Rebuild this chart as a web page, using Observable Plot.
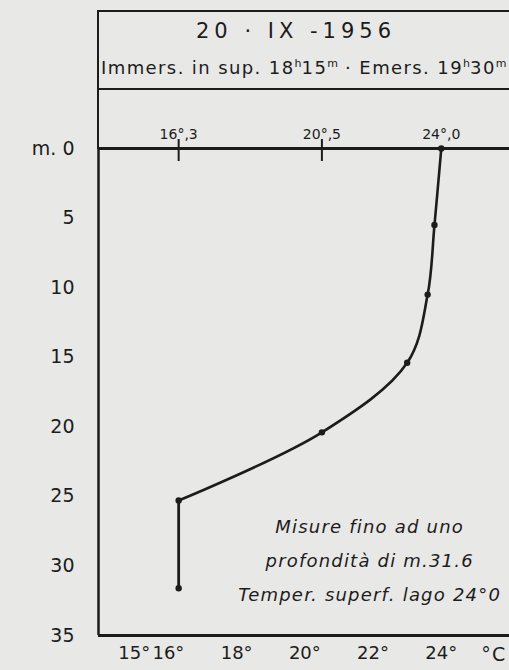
<!DOCTYPE html>
<html><head><meta charset="utf-8">
<script src="https://cdn.jsdelivr.net/npm/d3@7"></script>
<script src="https://cdn.jsdelivr.net/npm/@observablehq/plot@0.6"></script>
<style>
html,body{margin:0;padding:0;background:#e8e8e6;}
#wrap{position:relative;width:509px;height:670px;overflow:hidden;background:#e8e8e6;font-family:"DejaVu Sans",sans-serif;color:#1c1c1c;}
#head{position:absolute;left:97px;top:10px;width:440px;height:139px;border-top:2.5px solid #1c1c1c;border-left:2.5px solid #1c1c1c;box-sizing:border-box;}
#sep{position:absolute;left:0;top:76px;width:100%;height:0;border-top:2.5px solid #1c1c1c;}
#title{position:absolute;left:97px;width:398px;top:21px;text-align:center;font-size:21px;line-height:21px;letter-spacing:5px;white-space:nowrap;}
#sub{position:absolute;left:101px;top:59px;font-size:18px;line-height:18px;white-space:nowrap;letter-spacing:1.4px;}
#sub sup{font-size:11px;vertical-align:7px;line-height:0;letter-spacing:0;}
#plot{position:absolute;left:0;top:0;}
#plot g[aria-label="text"] text{letter-spacing:1.2px;}
</style></head>
<body>
<div id="wrap">
  <div id="head"><div id="sep"></div></div>
  <div id="title"></div>
  <div id="sub"></div>
  <div id="plot"></div>
</div>
<script>
// Header texts
const titleText = "20 · IX -1956";
const subParts = ["Immers. in sup. 18", "h", "15", "m", " · Emers. 19", "h", "30", "m"];

// Depth axis (m)
const depthTicks = [0, 5, 10, 15, 20, 25, 30, 35];
const depthLabels = ["m. 0", "5", "10", "15", "20", "25", "30", "35"];

// Temperature axis (°C)
const tempDomain = [13.95, 26];
const tempTicks = [15, 16, 18, 20, 22, 24];
const tempLabels = ["15°", "16°", "18°", "20°", "22°", "24°"];
const markedTemps = [16.3, 20.5, 24.0];
const markedLabels = ["16°,3", "20°,5", "24°,0"];
const markedTickTemps = [16.3, 20.5];

// Measured profile
const depths = [0, 5.5, 10.5, 15.4, 20.4, 25.3, 31.6];
const temps = [24.0, 23.8, 23.6, 23.0, 20.5, 16.3, 16.3];

// Annotation
const noteLines = ["Misure fino ad uno", "profondità di m.31.6", "Temper. superf. lago 24°0"];
const notePos = {temp: 21.9, depth: 29.3};

document.getElementById("title").textContent = titleText;
document.getElementById("sub").innerHTML = subParts.map((s, i) => (i % 2 === 1 ? `<sup>${s}</sup>` : s)).join("");

const profile = depths.map((d, i) => ({depth: d, temp: temps[i]}));
const upper = profile.slice(0, 6);
const lower = profile.slice(5);
const ink = "#1c1c1c";

const chart = Plot.plot({
  width: 509,
  height: 670,
  marginLeft: 98,
  marginRight: 0,
  marginTop: 148,
  marginBottom: 35,
  style: {background: "transparent", fontFamily: "DejaVu Sans, sans-serif", color: ink, overflow: "visible"},
  x: {domain: tempDomain, axis: null},
  y: {domain: [depthTicks[0], depthTicks[depthTicks.length - 1]], reverse: true, axis: null},
  marks: [
    Plot.axisY(depthTicks, {anchor: "left", tickSize: 0, tickPadding: 24, fontSize: 19, label: null,
      tickFormat: d => depthLabels[depthTicks.indexOf(d)]}),
    Plot.axisX(tempTicks, {anchor: "bottom", tickSize: 0, tickPadding: 11, fontSize: 18,
      tickFormat: d => tempLabels[tempTicks.indexOf(d)], label: null}),
    Plot.text(["°C"], {frameAnchor: "bottom-right", textAnchor: "end", lineAnchor: "top", dx: -3, dy: 12, fontSize: 19}),
    Plot.axisX(markedTemps, {anchor: "top", tickSize: 0, tickPadding: 10, fontSize: 14,
      tickFormat: d => markedLabels[markedTemps.indexOf(d)], label: null}),
    Plot.axisX(markedTickTemps, {anchor: "top", tickSize: 22, dy: 12, strokeWidth: 2,
      tickFormat: () => "", label: null}),
    Plot.ruleY([depthTicks[0], depthTicks[depthTicks.length - 1]], {stroke: ink, strokeWidth: 3}),
    Plot.ruleX([tempDomain[0]], {stroke: ink, strokeWidth: 2.5}),
    Plot.line(upper, {x: "temp", y: "depth", curve: "catmull-rom", stroke: ink, strokeWidth: 2.6}),
    Plot.line(lower, {x: "temp", y: "depth", stroke: ink, strokeWidth: 2.8}),
    Plot.dot(profile, {x: "temp", y: "depth", r: 3.2, fill: ink}),
    Plot.text([{temp: notePos.temp, depth: notePos.depth, text: noteLines.join("\n")}],
      {x: "temp", y: "depth", text: "text", fontSize: 18, fontStyle: "italic", lineHeight: 1.9,
       textAnchor: "middle", lineAnchor: "middle", fill: ink})
  ]
});
document.getElementById("plot").appendChild(chart);
</script>
</body></html>
